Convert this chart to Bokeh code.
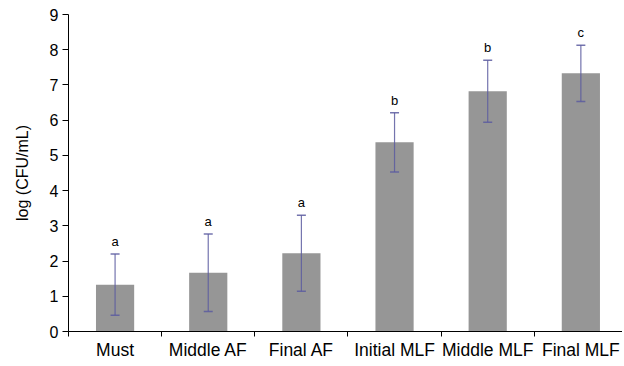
from bokeh.plotting import figure
from bokeh.models import Range1d, FixedTicker, ColumnDataSource, Whisker, TeeHead
from bokeh.embed import file_html
from bokeh.resources import INLINE
from bokeh.core.properties import value

categories = ["Must", "Middle AF", "Final AF", "Initial MLF", "Middle MLF", "Final MLF"]
means = [1.33, 1.67, 2.22, 5.37, 6.82, 7.33]
errors = [0.87, 1.10, 1.08, 0.84, 0.88, 0.80]
letters = ["a", "a", "a", "b", "b", "c"]

xs = [i + 0.5 for i in range(len(categories))]
upper = [m + e for m, e in zip(means, errors)]
lower = [m - e for m, e in zip(means, errors)]
label_y = [u + 0.35 for u in upper]

src = ColumnDataSource(dict(x=xs, top=means, upper=upper, lower=lower,
                            ly=label_y, lt=letters))

p = figure(width=622, height=362, output_backend="svg", toolbar_location=None,
           x_range=Range1d(0, 5.947), y_range=Range1d(0, 9),
           min_border_left=68, min_border_right=0, min_border_top=14, min_border_bottom=20)
p.outline_line_color = None
p.xgrid.grid_line_color = None
p.ygrid.grid_line_color = None

p.vbar(x="x", top="top", width=0.41, bottom=0, source=src,
       fill_color="#969696", line_color=None)

w = Whisker(base="x", upper="upper", lower="lower", source=src, level="overlay",
            line_color="#5c5ca0", line_width=1.2, line_alpha=0.85,
            upper_head=TeeHead(size=9, line_color="#5c5ca0", line_width=1.5, line_alpha=0.85),
            lower_head=TeeHead(size=9, line_color="#5c5ca0", line_width=1.5, line_alpha=0.85))
p.add_layout(w)

p.text(x="x", y="ly", text="lt", source=src, text_align="center",
       text_baseline="alphabetic", text_font=value("Liberation Sans"),
       text_font_size="13px", text_color="#000000")

# x axis
p.xaxis.ticker = FixedTicker(ticks=xs, minor_ticks=list(range(0, 7)))
p.xaxis.major_label_overrides = {x: c for x, c in zip(xs, categories)}
p.xaxis.major_tick_line_color = None
p.xaxis.minor_tick_out = 5
p.xaxis.minor_tick_in = 0
p.xaxis.minor_tick_line_color = "black"
p.xaxis.axis_line_color = "black"
p.xaxis.major_label_standoff = 2
p.xaxis.major_label_text_font = "Liberation Sans"
p.xaxis.major_label_text_font_size = "17.5px"
p.xaxis.major_label_text_color = "#000000"

# y axis
p.yaxis.ticker = FixedTicker(ticks=list(range(0, 10)))
p.yaxis.minor_tick_line_color = None
p.yaxis.major_tick_out = 6
p.yaxis.major_tick_in = 0
p.yaxis.major_tick_line_color = "black"
p.yaxis.axis_line_color = "black"
p.yaxis.major_label_standoff = 4
p.yaxis.major_label_text_font = "Liberation Sans"
p.yaxis.major_label_text_font_size = "16px"
p.yaxis.major_label_text_color = "#000000"
p.yaxis.axis_label = "log (CFU/mL)"
p.yaxis.axis_label_text_font = "Liberation Sans"
p.yaxis.axis_label_text_font_style = "normal"
p.yaxis.axis_label_text_font_size = "16px"
p.yaxis.axis_label_text_color = "#000000"
p.yaxis.axis_label_standoff = 16

open("out.html", "w").write(file_html(p, INLINE))
